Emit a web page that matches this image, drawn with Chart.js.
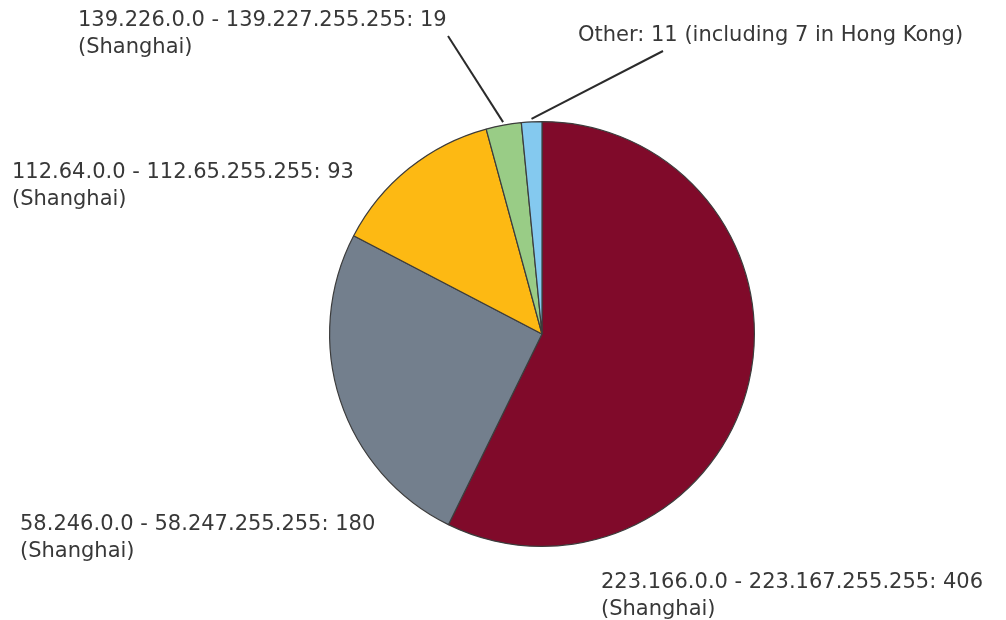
<!DOCTYPE html>
<html>
<head>
<meta charset="utf-8">
<script src="https://cdn.jsdelivr.net/npm/chart.js@4"></script>
<style>
html,body{margin:0;padding:0;background:#fff;}
#wrap{width:1006px;height:620px;position:relative;}
</style>
</head>
<body>
<div id="wrap"><canvas id="c" width="1006" height="620"></canvas></div>
<script>
const categories = [
  "223.166.0.0 - 223.167.255.255",
  "58.246.0.0 - 58.247.255.255",
  "112.64.0.0 - 112.65.255.255",
  "139.226.0.0 - 139.227.255.255",
  "Other"
];
const values = [406, 180, 93, 19, 11];
const subLabels = ["(Shanghai)", "(Shanghai)", "(Shanghai)", "(Shanghai)", ""];
const otherNote = " (including 7 in Hong Kong)";
const colors = ["#800a2a", "#737f8d", "#fdb913", "#99cc86", "#84c9ef"];

// label placement (left x, first baseline y) and optional leader line end point
const labelLayout = [
  {x: 601, y: 588, line: null},
  {x: 20,  y: 530, line: null},
  {x: 12,  y: 178, line: null},
  {x: 78,  y: 26,  line: [448, 36]},
  {x: 578, y: 41,  line: [663, 51]}
];

const labelPlugin = {
  id: 'labels',
  afterDraw(chart) {
    const ctx = chart.ctx;
    const meta = chart.getDatasetMeta(0);
    ctx.save();
    ctx.font = '21px "DejaVu Sans", sans-serif';
    ctx.fillStyle = '#383838';
    ctx.textBaseline = 'alphabetic';
    ctx.textAlign = 'left';
    categories.forEach((cat, i) => {
      const L = labelLayout[i];
      const main = cat + ': ' + values[i] + (i === 4 ? otherNote : '');
      ctx.fillText(main, L.x, L.y);
      if (subLabels[i]) ctx.fillText(subLabels[i], L.x, L.y + 27);
      if (L.line) {
        const arc = meta.data[i];
        const mid = (arc.startAngle + arc.endAngle) / 2;
        const r = arc.outerRadius + 3;
        const px = arc.x + Math.cos(mid) * r;
        const py = arc.y + Math.sin(mid) * r;
        ctx.beginPath();
        ctx.strokeStyle = '#2b2b2b';
        ctx.lineWidth = 2;
        ctx.moveTo(L.line[0], L.line[1]);
        ctx.lineTo(px, py);
        ctx.stroke();
      }
    });
    ctx.restore();
  }
};

new Chart(document.getElementById('c'), {
  type: 'pie',
  data: {
    labels: categories,
    datasets: [{
      data: values,
      backgroundColor: colors,
      borderColor: '#3c3c3c',
      borderWidth: 1.2
    }]
  },
  options: {
    responsive: false,
    animation: false,
    rotation: 0,
    layout: {padding: {left: 329, right: 251, top: 121, bottom: 73}},
    plugins: {legend: {display: false}, tooltip: {enabled: false}}
  },
  plugins: [labelPlugin]
});
</script>
</body>
</html>
